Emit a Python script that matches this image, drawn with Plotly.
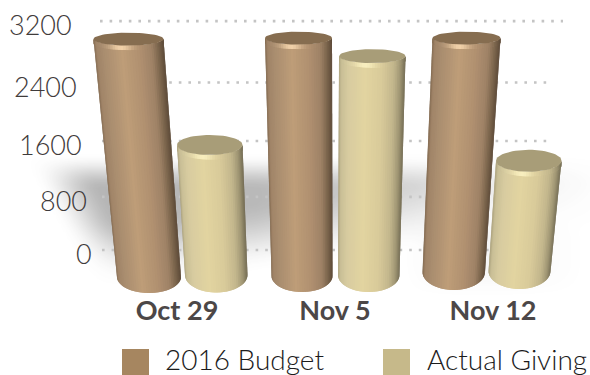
import numpy as np
import plotly.graph_objects as go

# ---- data ----
categories = ["Oct 29", "Nov 5", "Nov 12"]
budget = [3000, 3000, 2950]
actual = [1640, 2760, 1390]
series_names = ["2016 Budget", "Actual Giving"]
y_ticks = [0, 800, 1600, 2400, 3200]

# ---- layout / style ----
W, H = 590, 375
PLOT_BOTTOM = 300
K = 0.0793            # pixels per value unit
BASE_PX = 277
cat_x = [177, 335, 493]
# cylinder geometry in x pixels: top-left, top-right, bottom-left, bottom-right, base px, cap b, foot b
geom_budget = [(93.5, 163.5, 117, 181, 277, 6.5, 16),
               (265, 332, 271.5, 332.5, 276, 6.5, 16),
               (432.5, 500.5, 422.5, 485, 272, 6.5, 18)]
geom_actual = [(177, 242.5, 185, 247.5, 275, 10, 17.5),
               (339, 405.5, 338, 399.5, 275, 7, 17),
               (496, 561.5, 488.5, 550.5, 271, 11, 18)]
grid_ends = [(102, 540), (102, 543), (102, 547), (102, 550), (100, 563)]
label_right = [94, 89, 84, 79, 74]

stops_u = [-1, -0.93, -0.7, -0.2, 0.3, 0.65, 0.85, 1]
col_b = [(128, 104, 78), (160, 132, 104), (170, 142, 112), (190, 157, 120),
         (176, 144, 112), (158, 130, 102), (122, 100, 76), (92, 74, 56)]
col_a = [(170, 160, 124), (200, 190, 150), (216, 204, 160), (226, 212, 160),
         (216, 202, 154), (194, 182, 140), (160, 150, 116), (116, 108, 84)]
cap_b = "#866d50"
cap_a = "#a89d78"
hi_b = (240, 208, 168)
hi_a = (248, 238, 190)


def px2val(p):
    return (BASE_PX - p) / K


def back_plane(v):
    # the back wall is seen in perspective, so its gridlines are not evenly spaced
    return 340 + 0.816 * v + 2.695e-5 * v * v


def rgb(c):
    return "rgb(%d,%d,%d)" % tuple(int(round(x)) for x in c)


def ramp(u, cols):
    return [float(np.interp(u, stops_u, [c[i] for c in cols])) for i in range(3)]


def smooth(t):
    t = np.clip(t, 0, 1)
    return t * t * (3 - 2 * t)


fig = go.Figure()

# soft ground shadow, falling away to the lower left
sx = np.arange(0, W + 1, 5.0)
spx = np.arange(140, PLOT_BOTTOM + 1, 4.0)
X, Y = np.meshgrid(sx, spx)
strength = np.interp(X, [100, 255, 330, 415, 500, 590], [0.38, 0.36, 0.3, 0.22, 0.1, 0.02])
bot_end = np.interp(X, [100, 255, 415, 590], [290, 272, 250, 235])
bot_start = bot_end - 72
left_edge = 25 + (Y - 165) * 0.55
alpha = (strength * smooth((Y - 153) / 36) * (1 - smooth((Y - bot_start) / (bot_end - bot_start)))
         * smooth((X - left_edge) / 65))
# faint pool under the last cylinder
alpha = alpha + 0.05 * smooth((590 - X) / 90) * smooth((X - 400) / 60) * smooth((Y - 215) / 25) * (1 - smooth((Y - 262) / 36))
fig.add_trace(go.Heatmap(x=sx, y=[px2val(p) for p in spx], z=alpha,
                         zmin=0, zmax=1, zsmooth="best", showscale=False, hoverinfo="skip",
                         colorscale=[[0, "rgba(60,60,60,0)"], [1, "rgba(60,60,60,1)"]]))

# dotted back-wall gridlines
for tick, (x0, x1) in zip(y_ticks, grid_ends):
    fig.add_trace(go.Scatter(x=[x0, x1], y=[back_plane(tick)] * 2, mode="lines", hoverinfo="skip",
                             line=dict(color="#c4c4c4", width=2.6, dash="2.6px,7px")))


def cylinder(value, g, cols, cap, hi):
    xtl, xtr, xbl, xbr, base, bt, bb = g
    off = px2val(base)
    top = off + value
    theta = np.linspace(np.pi, 0, 41)
    us = np.cos(theta)
    ctx, atx = (xtl + xtr) / 2, (xtr - xtl) / 2
    cbx, abx = (xbl + xbr) / 2, (xbr - xbl) / 2

    def xt(u):
        return ctx + atx * u

    def xb(u):
        return cbx + abx * u

    def ft(u):
        return top - bt / K * np.sqrt(max(0.0, 1 - u * u))

    def fb(u):
        return off - bb / K * np.sqrt(max(0.0, 1 - u * u))

    # body strips
    for i in range(len(us) - 1):
        u0, u1 = us[i], us[min(i + 2, len(us) - 1)]
        c = ramp((us[i] + us[i + 1]) / 2, cols)
        fig.add_trace(go.Scatter(x=[xt(u0), xt(u1), xb(u1), xb(u0), xt(u0)],
                                 y=[ft(u0), ft(u1), fb(u1), fb(u0), ft(u0)],
                                 mode="lines", fill="toself", fillcolor=rgb(c),
                                 line=dict(width=0), hoverinfo="skip"))
    # bevel with a highlight where the rim catches the light
    bevel = 4.5 / K
    for i in range(len(us) - 1):
        u0, u1 = us[i], us[min(i + 2, len(us) - 1)]
        um = (us[i] + us[i + 1]) / 2
        c = ramp(um, cols)
        w = float(np.exp(-((um + 0.22) / 0.3) ** 2))
        c = [a + (h - a) * w for a, h in zip(c, hi)]
        fig.add_trace(go.Scatter(x=[xt(u0), xt(u1), xt(u1), xt(u0), xt(u0)],
                                 y=[ft(u0), ft(u1), ft(u1) - bevel, ft(u0) - bevel, ft(u0)],
                                 mode="lines", fill="toself", fillcolor=rgb(c),
                                 line=dict(width=0), hoverinfo="skip"))
    # top cap
    t = np.linspace(0, 2 * np.pi, 61)
    fig.add_trace(go.Scatter(x=ctx + atx * np.cos(t), y=top + bt / K * np.sin(t),
                             mode="lines", fill="toself", fillcolor=cap,
                             line=dict(width=0), hoverinfo="skip"))


draw = [(budget[0], geom_budget[0], col_b, cap_b, hi_b),
        (actual[0], geom_actual[0], col_a, cap_a, hi_a),
        (budget[1], geom_budget[1], col_b, cap_b, hi_b),
        (actual[1], geom_actual[1], col_a, cap_a, hi_a),
        (budget[2], geom_budget[2], col_b, cap_b, hi_b),
        (actual[2], geom_actual[2], col_a, cap_a, hi_a)]
for d in draw:
    cylinder(*d)

plot_h = PLOT_BOTTOM
annotations = []
for tick, xr in zip(y_ticks, label_right):
    annotations.append(dict(x=xr, y=back_plane(tick) - 3.8 / K, xref="x", yref="y", text=str(tick),
                            showarrow=False, xanchor="right", yanchor="middle",
                            font=dict(family="Lato", size=27, weight=300, color="#3f3b3b")))


def paper_y(p):
    return (PLOT_BOTTOM - p) / plot_h


shapes = []
legend = [(122, 149, 163, "#a68660", series_names[0]), (383, 410, 425, "#c6b98a", series_names[1])]
for x0, x1, xt_, col, name in legend:
    shapes.append(dict(type="rect", xref="x", yref="paper", x0=x0, x1=x1,
                       y0=paper_y(375), y1=paper_y(349), fillcolor=col, line_width=0))
    annotations.append(dict(x=xt_, y=paper_y(358.5), xref="x", yref="paper", text=name, showarrow=False,
                            xanchor="left", yanchor="middle",
                            font=dict(family="Lato", size=28, weight=300, color="#1c1c1c")))

fig.update_layout(
    width=W, height=H, autosize=False, showlegend=False,
    margin=dict(l=0, r=0, t=0, b=H - PLOT_BOTTOM, pad=0),
    paper_bgcolor="white", plot_bgcolor="white",
    xaxis=dict(range=[0, W], showgrid=False, zeroline=False, showline=False, ticks="",
               tickmode="array", tickvals=cat_x, ticktext=["<b>%s</b>" % c for c in categories],
               ticklabelstandoff=-8,
               tickfont=dict(family="Lato", size=27, color="#4c4747"), fixedrange=True),
    yaxis=dict(range=[px2val(PLOT_BOTTOM), px2val(0)], showgrid=False, zeroline=False, showline=False,
               showticklabels=False, ticks="", fixedrange=True),
    annotations=annotations, shapes=shapes,
)

fig.write_html("out.html", config={"displayModeBar": False},
               post_script="document.body.style.margin='0';document.documentElement.style.overflow='hidden';")
